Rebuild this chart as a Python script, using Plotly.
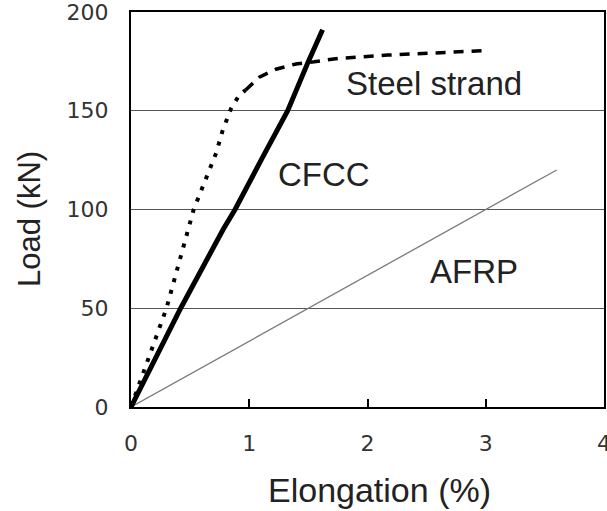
import plotly.graph_objects as go

# CFCC (solid thick)
cfcc_x = [0, 0.42, 0.78, 0.88, 1.10, 1.325, 1.50, 1.62]
cfcc_y = [0, 50, 90, 100, 125, 150, 175, 191]

# steel strand - dotted elastic part, dashed plateau
steel_dot_x = [0, 0.30, 0.53, 0.72, 0.775, 0.817, 0.845, 0.916, 0.97]
steel_dot_y = [0, 50, 100, 128.6, 140, 147, 151, 158, 160.5]
steel_dash_x = [0.97, 1.085, 1.225, 1.395, 1.55, 1.75, 2.17, 2.98]
steel_dash_y = [160.5, 167, 171, 173.7, 174.8, 176.5, 178.2, 180.4]

# AFRP (thin gray)
afrp_x = [0, 3.6]
afrp_y = [0, 120]

labels = ["Steel strand", "CFCC", "AFRP"]
label_x = [2.56, 1.63, 2.9]
label_y = [164, 117.5, 68.4]

fig = go.Figure()
fig.add_trace(go.Scatter(x=afrp_x, y=afrp_y, mode="lines",
                         line=dict(color="#7a7a7a", width=1.3)))
fig.add_trace(go.Scatter(x=steel_dot_x, y=steel_dot_y, mode="lines",
                         line=dict(color="black", width=4, dash="4px,8px")))
fig.add_trace(go.Scatter(x=steel_dash_x, y=steel_dash_y, mode="lines",
                         line=dict(color="black", width=3.5, dash="10px,8px")))
fig.add_trace(go.Scatter(x=cfcc_x, y=cfcc_y, mode="lines",
                         line=dict(color="black", width=5)))

for t, x, y in zip(labels, label_x, label_y):
    fig.add_annotation(x=x, y=y, text=t, showarrow=False,
                       font=dict(family="Liberation Sans", size=33, color="#222"))

# axis titles placed as paper annotations
fig.add_annotation(x=0.526, y=-0.21, xref="paper", yref="paper",
                   text="Elongation (%)", showarrow=False,
                   xanchor="center", yanchor="middle",
                   font=dict(family="Liberation Sans", size=34, color="#222"))
fig.add_annotation(x=-0.2135, y=0.476, xref="paper", yref="paper",
                   text="Load (kN)", showarrow=False, textangle=-90,
                   xanchor="center", yanchor="middle",
                   font=dict(family="Liberation Sans", size=31, color="#222"))

fig.update_layout(
    width=607, height=511,
    margin=dict(l=131, r=3, t=12, b=104),
    paper_bgcolor="white", plot_bgcolor="white",
    showlegend=False,
)
fig.update_xaxes(range=[0, 4], tickvals=[0, 1, 2, 3, 4], automargin=False,
                 showline=True, linecolor="black", linewidth=2, mirror=True,
                 showgrid=False, zeroline=False,
                 ticks="inside", ticklen=8, tickwidth=1.5, tickcolor="black",
                 ticklabelstandoff=16, ticklabeloverflow="allow",
                 tickfont=dict(family="DejaVu Sans", size=22, color="#333"))
fig.update_yaxes(range=[0, 200], tickvals=[0, 50, 100, 150, 200], automargin=False,
                 showline=True, linecolor="black", linewidth=2, mirror=True,
                 showgrid=True, gridcolor="#555", gridwidth=1, zeroline=False,
                 ticks="", ticklabelstandoff=16, ticklabeloverflow="allow",
                 tickfont=dict(family="DejaVu Sans", size=22, color="#333"))

# drop the browser's default body margin so the figure fills the window
fig.write_html("out.html", config={"displayModeBar": False},
               post_script="document.body.style.margin='0';"
                           "document.body.style.overflow='hidden';")
